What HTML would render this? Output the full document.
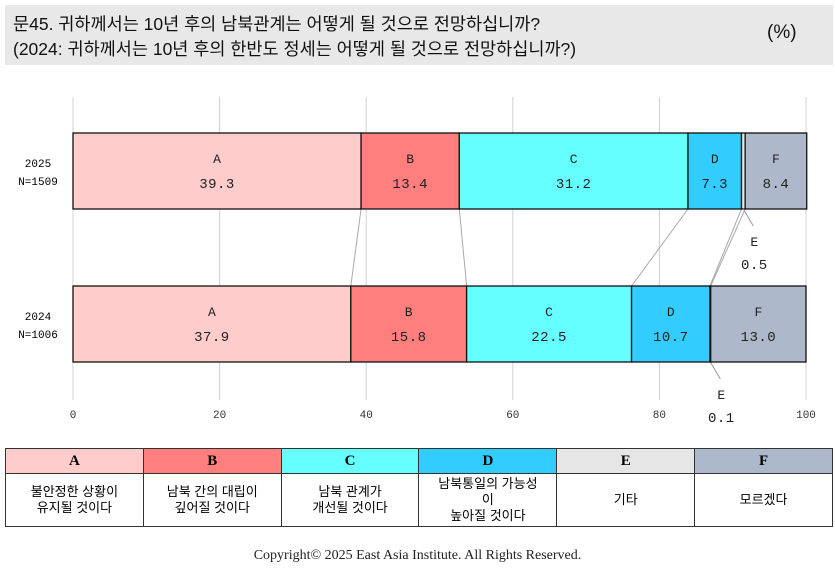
<!DOCTYPE html>
<html><head><meta charset="utf-8">
<style>
body{margin:0;width:835px;height:574px;background:#fff;position:relative;overflow:hidden;font-family:"Liberation Sans","Noto Sans CJK KR",sans-serif}
#hdr{position:absolute;left:5px;top:5px;width:828px;height:60px;background:#e8e8e8}
#hdr .t{position:absolute;left:8px;font-size:17.5px;color:#111;white-space:nowrap}
table{position:absolute;left:5px;top:448px;width:828px;border-collapse:collapse;font-size:13px}
td{border:1px solid #333;text-align:center;width:138px;padding:0}
tr.h td{height:24px;font-family:"Liberation Serif",serif;font-weight:bold;font-size:15px}
tr.b td{height:52px;line-height:16px;font-size:13px}
#copy{position:absolute;top:548px;left:0;width:835px;text-align:center;font-family:"Liberation Serif",serif;font-size:14px;color:#222}
</style></head><body>
<div id="hdr">
<div class="t" style="top:6px">문45. 귀하께서는 10년 후의 남북관계는 어떻게 될 것으로 전망하십니까?</div>
<div class="t" style="top:31px">(2024: 귀하께서는 10년 후의 한반도 정세는 어떻게 될 것으로 전망하십니까?)</div>
<div class="t" style="left:762px;top:17px;font-size:19px">(%)</div>
</div>
<svg id="chart" width="835" height="440" style="position:absolute;left:0;top:0"></svg>
<table>
<tr class="h"><td style="background:#ffcccc">A</td><td style="background:#ff7f7f">B</td><td style="background:#66ffff">C</td><td style="background:#33ccff">D</td><td style="background:#e6e6e6">E</td><td style="background:#adb9ca">F</td></tr>
<tr class="b"><td>불안정한 상황이<br>유지될 것이다</td><td>남북 간의 대립이<br>깊어질 것이다</td><td>남북 관계가<br>개선될 것이다</td><td>남북통일의 가능성<br>이<br>높아질 것이다</td><td>기타</td><td>모르겠다</td></tr>
</table>
<div id="copy">Copyright© 2025 East Asia Institute. All Rights Reserved.</div>
<script>
const categories=["A","B","C","D","E","F"];
const years=["2025","2024"];
const sampleN=["N=1509","N=1006"];
const values2025=[39.3,13.4,31.2,7.3,0.5,8.4];
const values2024=[37.9,15.8,22.5,10.7,0.1,13.0];
const ticks=[0,20,40,60,80,100];
const colors=["#ffcccc","#ff7f7f","#66ffff","#33ccff","#e6e6e6","#adb9ca"];
const NS="http://www.w3.org/2000/svg";
const svg=document.getElementById('chart');
const x=v=>73+v*7.33;
const rowsY=[133,286],BH=76;
function mk(t,a,p){const e=document.createElementNS(NS,t);for(const k in a)e.setAttribute(k,a[k]);(p||svg).appendChild(e);return e;}
ticks.forEach(t=>{
 const l=mk('line',{x1:x(t),x2:x(t),y1:97,y2:400,stroke:'#d0d0d0'});
 
 
 const tx=mk('text',{x:x(t),y:418,'text-anchor':'middle','font-family':'Liberation Mono,monospace','font-size':11,fill:'#333'});
 tx.textContent=t;
 
 
});
const series=[values2025,values2024];
const cums=series.map(vals=>{let c=[0];vals.forEach(v=>c.push(c[c.length-1]+v));return c;});
for(let i=1;i<categories.length;i++){
 const l=mk('line',{x1:x(cums[0][i]),y1:rowsY[0]+BH,x2:x(cums[1][i]),y2:rowsY[1],stroke:'#aaa'});
 
 
}
series.forEach((vals,r)=>{
 const y=rowsY[r];
 const yl=mk('text',{x:38,y:y+BH/2-4,'text-anchor':'middle','font-family':'Liberation Mono,monospace','font-size':11});
 yl.textContent=years[r];
 
 
 const nl=mk('text',{x:38,y:y+BH/2+14,'text-anchor':'middle','font-family':'Liberation Mono,monospace','font-size':11});
 nl.textContent=sampleN[r];
 
 
 vals.forEach((v,i)=>{
  const x0=x(cums[r][i]),w=x(cums[r][i+1])-x0;
  const b=mk('rect',{x:x0,y:y,width:w,height:BH,fill:colors[i],stroke:'#111','stroke-width':1.3});
  
  
  const cx=x0+w/2;
  let ly1,ly2,px=cx;
  if(w>20){ly1=y+BH/2-8;ly2=y+BH/2+17;}
  else{
   const ex=cx+10;
   const ll=mk('line',{x1:cx,y1:y+BH,x2:ex,y2:y+BH+17,stroke:'#999'});
   
   
   ly1=y+BH+37;ly2=y+BH+60;
   px=ex+1;
  }
  const t1=mk('text',{x:px,y:ly1,'text-anchor':'middle','font-family':'Liberation Mono,monospace','font-size':13,fill:'#222'});
  t1.textContent=categories[i];
  
  
  const t2=mk('text',{x:px,y:ly2,'text-anchor':'middle','font-family':'Liberation Mono,monospace','font-size':14,fill:'#222','letter-spacing':'0.5'});
  t2.textContent=v.toFixed(1);
  
  
 });
});
</script>
</body></html>
